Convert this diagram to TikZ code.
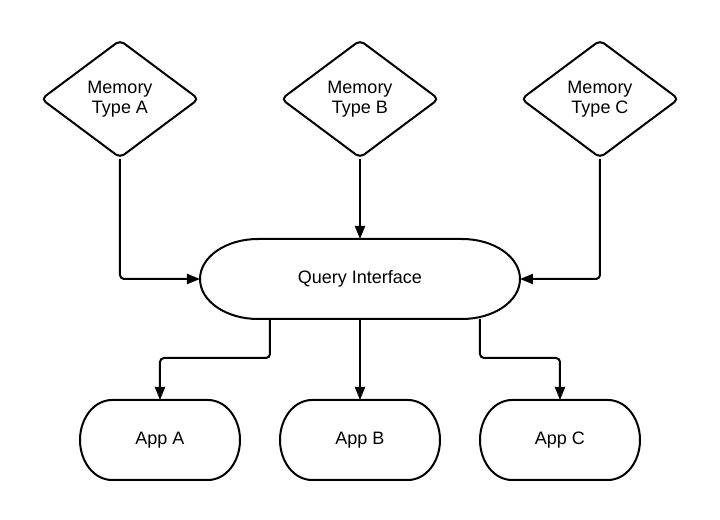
\documentclass[tikz,border=0pt]{standalone}
\usepackage{fontspec}
\setmainfont{Liberation Sans}
\usetikzlibrary{arrows.meta, shapes.geometric}

% outline of a terminator: flat top and bottom, elliptic ends
\newcommand{\termline}[2]{%
  \draw[line width=1pt] ([xshift=#2]#1.north west) -- ([xshift=-#2]#1.north east)
    arc[start angle=90, end angle=-90, x radius=#2, y radius=20pt]
    -- ([xshift=#2]#1.south west)
    arc[start angle=270, end angle=90, x radius=#2, y radius=20pt] -- cycle;}

\begin{document}
\begin{tikzpicture}[x=0.5pt, y=0.5pt, font=\fontsize{9}{10}\selectfont,
      mem/.style={diamond, draw, line width=1pt, rounded corners=2.5pt, align=center,
        minimum width=79pt, minimum height=59pt, inner sep=0pt},
      qbox/.style={minimum width=160pt, minimum height=40pt, inner sep=0pt, outer sep=0pt},
      appbox/.style={minimum width=80pt, minimum height=40pt, inner sep=0pt, outer sep=0pt},
      link/.style={line width=1pt, rounded corners=2pt, -{Triangle[length=6.5pt, width=5pt]}}]
    \useasboundingbox (0,0) rectangle (720,520);
    \node[mem] (memA) at (120,421) {Memory\\Type A};
    \node[mem] (memB) at (360,421) {Memory\\Type B};
    \node[mem] (memC) at (600,421) {Memory\\Type C};
    \node[qbox] (qi) at (360,241) {Query Interface};
    \termline{qi}{29pt}
    \node[appbox] (appA) at (160,80) {App A};
    \node[appbox] (appB) at (360,80) {App B};
    \node[appbox] (appC) at (560,80) {App C};
    \termline{appA}{16pt} \termline{appB}{16pt} \termline{appC}{16pt}
    \draw[link] (memA.south) |- (qi.west);
    \draw[link] (memB.south) -- (qi.north);
    \draw[link] (memC.south) |- (qi.east);
    \draw[link] ([xshift=-45pt]qi.south) -- ++(0,-39) -| (appA.north);
    \draw[link] (qi.south) -- (appB.north);
    \draw[link] ([xshift=60pt]qi.south) -- ++(0,-39) -| (appC.north);
  \end{tikzpicture}
\end{document}
